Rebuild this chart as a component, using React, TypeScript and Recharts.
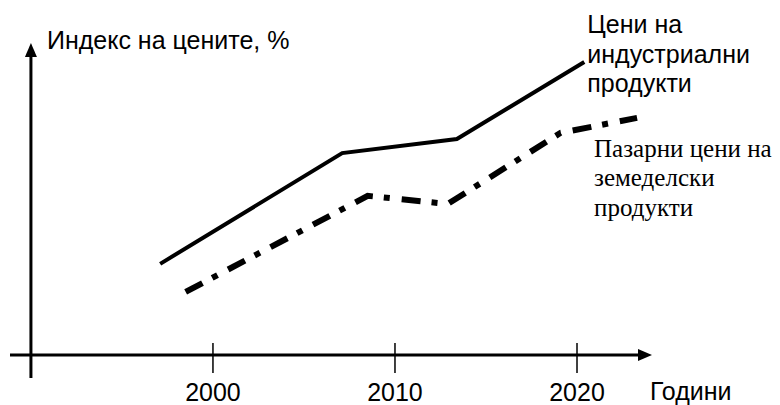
import { LineChart, Line, XAxis, YAxis, ReferenceLine } from 'recharts';

// years / index values
const industrialYears = [1997.1, 2007.1, 2013.4, 2020.4];
const industrialValues = [29.2, 64.7, 69.2, 93.9];
const farmYears = [1998.5, 2008.5, 2012.9, 2019.1, 2023.3];
const farmValues = [20.2, 51.0, 48.4, 71.2, 76.0];

const tickYears = [2000, 2010, 2020];
const tickLabels = ['2000', '2010', '2020'];

const industrialLabel = ['Цени на', 'индустриални', 'продукти'];
const farmLabel = ['Пазарни цени на', 'земеделски', 'продукти'];
const yAxisTitle = 'Индекс на цените, %';
const xAxisTitle = 'Години';

const X_DOMAIN: [number, number] = [1988.85, 2024.12];
const Y_DOMAIN: [number, number] = [-7.4, 100];
const AXIS_YEAR = 1990;

const SANS = '"Liberation Sans", Arial, sans-serif';
const SERIF = '"Liberation Serif", "Times New Roman", serif';
const FONT_SIZE = 25;

const industrialData = industrialYears.map((year, i) => ({ year, value: industrialValues[i] }));
const farmData = farmYears.map((year, i) => ({ year, value: farmValues[i] }));

const YAxisArrow = (props: any) => {
	const { x1, y1, x2, y2 } = props;
	return (
		<g>
			<line x1={x1} y1={y1} x2={x2} y2={y2 + 12} stroke="#000" strokeWidth={3} />
			<polygon points={`${x2},${y2} ${x2 - 6},${y2 + 14} ${x2 + 6},${y2 + 14}`} fill="#000" />
			<text x={x2 + 16} y={y2 + 6} fontFamily={SANS} fontSize={FONT_SIZE} fill="#000">
				{yAxisTitle}
			</text>
		</g>
	);
};

const XAxisArrow = (props: any) => {
	const { x1, y1, x2, y2 } = props;
	return (
		<g>
			<line x1={x1} y1={y1} x2={x2 - 12} y2={y2} stroke="#000" strokeWidth={3} />
			<polygon points={`${x2},${y2} ${x2 - 14},${y2 - 6} ${x2 - 14},${y2 + 6}`} fill="#000" />
			<text x={x2 - 2} y={y2 + 45} fontFamily={SANS} fontSize={FONT_SIZE} fill="#000">
				{xAxisTitle}
			</text>
		</g>
	);
};

const makeTick = (label: string) => (props: any) => {
	const { x1, y1, x2, y2 } = props;
	return (
		<g>
			<line x1={x1} y1={y1} x2={x2} y2={y2} stroke="#000" strokeWidth={1.5} />
			<text x={x1} y={y1 + 28} textAnchor="middle" fontFamily={SANS} fontSize={FONT_SIZE} fill="#000">
				{label}
			</text>
		</g>
	);
};

const endLabel = (lines: string[], lastIndex: number, dx: number, dy: number, font: string) => (props: any) => {
	const { x, y, index } = props;
	if (index !== lastIndex) return null;
	return (
		<text x={x + dx} y={y + dy} fontFamily={font} fontSize={FONT_SIZE} fill="#000">
			{lines.map((line, i) => (
				<tspan key={line + i} x={x + dx} dy={i === 0 ? 0 : 29.5}>
					{line}
				</tspan>
			))}
		</text>
	);
};

export default function App() {
	return (
		<div style={{ position: 'absolute', left: 0, top: 0, background: '#fff' }}>
			<LineChart width={780} height={405} margin={{ top: 43, right: 128, bottom: 27, left: 10 }}>
				<XAxis type="number" dataKey="year" domain={X_DOMAIN} allowDataOverflow hide />
				<YAxis type="number" dataKey="value" domain={Y_DOMAIN} allowDataOverflow hide />

				<ReferenceLine
					segment={[{ x: X_DOMAIN[0], y: 0 }, { x: X_DOMAIN[1], y: 0 }]}
					ifOverflow="visible"
					shape={XAxisArrow}
				/>
				<ReferenceLine
					segment={[{ x: AXIS_YEAR, y: Y_DOMAIN[0] }, { x: AXIS_YEAR, y: Y_DOMAIN[1] }]}
					ifOverflow="visible"
					shape={YAxisArrow}
				/>
				{tickYears.map((year, i) => (
					<ReferenceLine
						key={year}
						segment={[{ x: year, y: -5.8 }, { x: year, y: 3.85 }]}
						ifOverflow="visible"
						shape={makeTick(tickLabels[i])}
					/>
				))}

				<Line
					data={industrialData}
					dataKey="value"
					type="linear"
					stroke="#000"
					strokeWidth={4}
					dot={false}
					activeDot={false}
					isAnimationActive={false}
					label={endLabel(industrialLabel, industrialData.length - 1, 3, -29, SANS)}
				/>
				<Line
					data={farmData}
					dataKey="value"
					type="linear"
					stroke="#000"
					strokeWidth={6}
					strokeDasharray="19 11 6 12"
					dot={false}
					activeDot={false}
					isAnimationActive={false}
					label={endLabel(farmLabel, farmData.length - 1, -43, 39, SERIF)}
				/>
			</LineChart>
		</div>
	);
}
